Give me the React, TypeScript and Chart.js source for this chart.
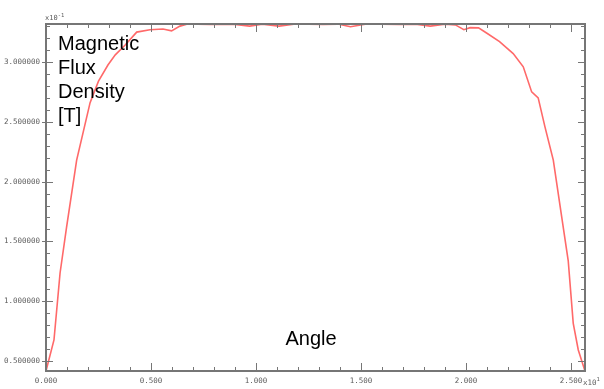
import React, { useEffect, useRef } from "react";
import { Chart, registerables } from "chart.js";

Chart.register(...registerables);

// Angle (x10^1) and flux density (x10^-1 T)
const angleValues = [
  0, 0.038, 0.067, 0.098, 0.146, 0.21, 0.25, 0.295, 0.33, 0.376, 0.432, 0.495,
  0.557, 0.598, 0.638, 0.67, 0.72, 0.78, 0.84, 0.9, 0.97, 1.03, 1.11, 1.18,
  1.25, 1.32, 1.39, 1.45, 1.52, 1.6, 1.68, 1.76, 1.83, 1.9, 1.95, 1.99, 2.02,
  2.06, 2.1, 2.16, 2.225, 2.273, 2.313, 2.344, 2.376, 2.416, 2.456, 2.487,
  2.511, 2.535, 2.567,
];
const fluxValues = [
  0.416, 0.676, 1.236, 1.62, 2.18, 2.66, 2.84, 2.975, 3.06, 3.14, 3.25, 3.27,
  3.276, 3.26, 3.3, 3.315, 3.317, 3.314, 3.317, 3.314, 3.3, 3.315, 3.3, 3.315,
  3.317, 3.314, 3.317, 3.295, 3.315, 3.317, 3.314, 3.317, 3.3, 3.315, 3.31,
  3.27, 3.287, 3.285, 3.24, 3.17, 3.07, 2.96, 2.75, 2.7, 2.46, 2.18, 1.706,
  1.34, 0.815, 0.592, 0.416,
];

const xMin = 0;
const xMax = 2.567;
const yMin = 0.4164;
const yMax = 3.3177;
const minorStep = 0.1;
const majorStep = 0.5;

const yTitleLines = ["Magnetic", "Flux", "Density", "[T]"];
const xTitle = "Angle";
const yExponent = ["x10", "-1"];
const xExponent = ["x10", "1"];

const isMajor = (v: number) => Math.abs(v / majorStep - Math.round(v / majorStep)) < 1e-6;

const frameColor = "#767676";
const labelColor = "#5c5c5c";
const tickFont = { family: "'DejaVu Sans Mono', monospace", size: 7.5 };

const framePlugin = {
  id: "frame",
  afterDatasetsDraw(chart: any) {
    const { ctx, chartArea: a, scales } = chart;
    const x = scales.x;
    const y = scales.y;
    ctx.save();
    ctx.strokeStyle = frameColor;
    ctx.lineWidth = 1;
    ctx.beginPath();
    x.ticks.forEach((t: any) => {
      const px = Math.round(x.getPixelForValue(t.value)) + 0.5;
      const len = isMajor(t.value) ? 8 : 4;
      ctx.moveTo(px, a.bottom);
      ctx.lineTo(px, a.bottom - len);
      ctx.moveTo(px, a.top);
      ctx.lineTo(px, a.top + len);
    });
    y.ticks.forEach((t: any) => {
      const py = Math.round(y.getPixelForValue(t.value)) + 0.5;
      const major = isMajor(t.value);
      const len = major ? 7 : 4;
      ctx.moveTo(a.left - (major ? 4 : 0), py);
      ctx.lineTo(a.left + len, py);
      ctx.moveTo(a.right, py);
      ctx.lineTo(a.right - len, py);
    });
    ctx.stroke();
    ctx.lineWidth = 2;
    ctx.strokeRect(a.left, a.top, a.right - a.left, a.bottom - a.top);
    ctx.restore();
  },
  afterDraw(chart: any) {
    const { ctx, chartArea: a } = chart;
    ctx.save();
    // axis titles inside the plot
    ctx.fillStyle = "#000";
    ctx.font = "20px 'Liberation Sans', Arial, sans-serif";
    ctx.textBaseline = "alphabetic";
    ctx.textAlign = "left";
    yTitleLines.forEach((line, i) => {
      ctx.fillText(line, a.left + 12, a.top + 26 + i * 24);
    });
    ctx.textAlign = "center";
    ctx.fillText(xTitle, 311, a.bottom - 26);
    // exponents
    ctx.fillStyle = labelColor;
    ctx.textAlign = "left";
    ctx.font = "7px 'DejaVu Sans Mono', monospace";
    ctx.fillText(yExponent[0], a.left - 1, a.top - 4);
    let w = ctx.measureText(yExponent[0]).width;
    ctx.font = "5.5px 'DejaVu Sans Mono', monospace";
    ctx.fillText(yExponent[1], a.left - 1 + w, a.top - 7);
    ctx.font = "7.5px 'DejaVu Sans Mono', monospace";
    ctx.fillText(xExponent[0], a.right - 2, a.bottom + 13.5);
    w = ctx.measureText(xExponent[0]).width;
    ctx.font = "5.5px 'DejaVu Sans Mono', monospace";
    ctx.fillText(xExponent[1], a.right - 2 + w, a.bottom + 10);
    ctx.restore();
  },
};

export default function App() {
  const canvasRef = useRef<HTMLCanvasElement | null>(null);

  useEffect(() => {
    document.body.style.margin = "0";
    const canvas = canvasRef.current;
    if (!canvas) return;
    const chart = new Chart(canvas, {
      type: "line",
      data: {
        datasets: [
          {
            data: angleValues.map((a, i) => ({ x: a, y: fluxValues[i] })),
            borderColor: "rgb(255,105,105)",
            borderWidth: 1.6,
            pointRadius: 0,
            tension: 0,
            fill: false,
          },
        ],
      },
      options: {
        animation: false,
        responsive: true,
        maintainAspectRatio: false,
        layout: { padding: { top: 24, right: 19, left: 0, bottom: 0 } },
        plugins: {
          legend: { display: false },
          tooltip: { enabled: false },
          title: { display: false },
        },
        scales: {
          x: {
            type: "linear",
            min: xMin,
            max: xMax,
            grid: { display: false, drawTicks: false },
            border: { display: false },
            afterFit: (s: any) => {
              s.height = 18;
            },
            ticks: {
              stepSize: minorStep,
              includeBounds: false,
              autoSkip: false,
              maxRotation: 0,
              padding: 6,
              color: labelColor,
              font: tickFont,
              callback: (v: any) => (isMajor(Number(v)) ? Number(v).toFixed(3) : ""),
            },
          },
          y: {
            type: "linear",
            min: yMin,
            max: yMax,
            grid: { display: false, drawTicks: false },
            border: { display: false },
            afterFit: (s: any) => {
              s.width = 46;
            },
            ticks: {
              stepSize: minorStep,
              includeBounds: false,
              autoSkip: false,
              padding: 6,
              color: labelColor,
              font: tickFont,
              callback: (v: any) => (isMajor(Number(v)) ? Number(v).toFixed(6) : ""),
            },
          },
        },
      },
      plugins: [framePlugin],
    } as any);
    return () => chart.destroy();
  }, []);

  return (
    <div style={{ width: 604, height: 389, position: "relative", background: "#fff" }}>
      <canvas ref={canvasRef} />
    </div>
  );
}
